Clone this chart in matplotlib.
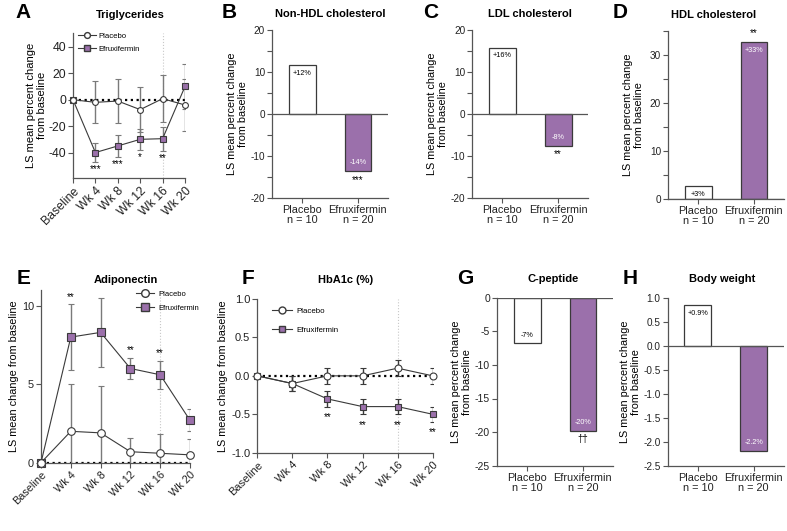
import numpy as np
import matplotlib
matplotlib.use('Agg')
import matplotlib.pyplot as plt
from matplotlib.lines import Line2D
from matplotlib.transforms import Bbox, TransformedBbox

plt.rcParams['font.family'] = ['Liberation Sans', 'DejaVu Sans']
plt.rcParams['axes.unicode_minus'] = False

PURPLE = '#9b70ab'
DARK = '#3a3a3a'
AXC = '#555555'
ERRC = '#7a7a7a'

weeks = [0, 4, 8, 12, 16, 20]
week_labels = ['Baseline', 'Wk 4', 'Wk 8', 'Wk 12', 'Wk 16', 'Wk 20']
groups = ['Placebo\nn = 10', 'Efruxifermin\nn = 20']

# A - triglycerides (LS mean % change)
tg_pbo = [0, -2, -1, -7.5, 0.8, -4]
tg_pbo_err = [0, 16, 17, 17, 18, 20]
tg_efx = [0, -40, -35, -30, -29.5, 10]
tg_efx_err = [0, 7, 8, 8, 9, 17]
tg_stars = ['', '***', '***', '*', '**', '']

# B, C, D - lipids bars
nonhdl = [11.6, -13.7]
nonhdl_txt = ['+12%', '-14%']
ldl = [15.8, -7.7]
ldl_txt = ['+16%', '-8%']
hdl = [2.7, 32.7]
hdl_txt = ['+3%', '+33%']

# E - adiponectin
adipo_pbo = [0, 2.0, 1.9, 0.7, 0.6, 0.5]
adipo_pbo_err = [0, 3.0, 3.0, 0.9, 1.2, 1.0]
adipo_efx = [0, 8.0, 8.3, 6.0, 5.6, 2.7]
adipo_efx_err = [0, 2.1, 2.2, 0.7, 0.9, 0.7]
adipo_stars = ['', '**', '', '**', '**', '']

# F - HbA1c
hba_pbo = [0, -0.1, 0.0, 0.0, 0.1, 0.0]
hba_pbo_err = [0, 0.1, 0.1, 0.1, 0.1, 0.1]
hba_efx = [0, -0.1, -0.3, -0.4, -0.4, -0.5]
hba_efx_err = [0, 0.1, 0.1, 0.1, 0.1, 0.1]
hba_stars = ['', '', '**', '**', '**', '**']

# G, H
cpep = [-6.8, -19.8]
cpep_txt = ['-7%', '-20%']
bw = [0.86, -2.18]
bw_txt = ['+0.9%', '-2.2%']

W, H = 787, 531
fig = plt.figure(figsize=(7.87, 5.31), dpi=100)


def px_axes(x0, x1, y0, y1):
    # pixel box (left, right, top, bottom) -> figure axes
    return fig.add_axes([x0 / W, 1 - y1 / H, (x1 - x0) / W, (y1 - y0) / H])


def style(ax, fs):
    for s in ['top', 'right']:
        ax.spines[s].set_visible(False)
    for s in ['left', 'bottom']:
        ax.spines[s].set_color(AXC)
        ax.spines[s].set_linewidth(0.9)
    ax.tick_params(which='both', direction='out', length=3.5, width=0.8,
                   color=AXC, labelsize=fs, pad=1.5, labelcolor='#222222')


def line_panel(ax, pbo, pbo_err, efx, efx_err, stars, ms, fs, ecol=ERRC, below=True, off=0):
    style(ax, fs)
    ax.axhline(0, color='black', ls=(0, (1, 1.6)), lw=1.6, zorder=1)
    ax.axvline(16, color='#c8c8c8', ls=':', lw=0.8, zorder=0)
    kw = dict(color=DARK, lw=0.8, mec=DARK, mew=0.8, ms=ms, ecolor=ecol,
              elinewidth=1.0, capsize=2.5, capthick=0.9)
    e1 = ax.errorbar(weeks, efx, yerr=efx_err, marker='s', mfc=PURPLE, zorder=3, **kw)
    e2 = ax.errorbar(weeks, pbo, yerr=pbo_err, marker='o', mfc='white', zorder=4, **kw)
    for e in (e1, e2):
        e[0].set_clip_on(False)
    ax.set_xlim(0, 20)
    ax.set_xticks(weeks)
    ax.set_xticklabels(week_labels, rotation=45, ha='right', rotation_mode='anchor')
    for x, y, er, s in zip(weeks, efx, efx_err, stars):
        if not s:
            continue
        if below:
            ax.text(x, y - er - off, s, ha='center', va='top', fontsize=7)
        else:
            ax.text(x, y + er + off, s, ha='center', va='bottom', fontsize=7)
    handles = [Line2D([], [], color=DARK, lw=0.8, marker='o', mfc='white', mec=DARK, ms=ms),
               Line2D([], [], color=DARK, lw=0.8, marker='s', mfc=PURPLE, mec=DARK, ms=ms)]
    return handles


def bar_panel(ax, vals, txt, star=None, fs=7.2):
    style(ax, fs)
    ax.bar([0, 1], vals, width=0.48, color=['white', PURPLE], edgecolor=DARK,
           linewidth=0.9, zorder=2)
    ax.axhline(0, color=AXC, lw=0.9, zorder=3)
    ax.set_xlim(-0.54, 1.54)
    ax.set_xticks([0, 1])
    ax.set_xticklabels(groups, fontsize=7.8, linespacing=1.0)
    for i, (v, t) in enumerate(zip(vals, txt)):
        col = 'black' if i == 0 else 'white'
        dy = -6 if v > 0 else 6
        ax.annotate(t, (i, v), xytext=(0, dy), textcoords='offset points',
                    ha='center', va='center', fontsize=5.2, color=col, zorder=4)
    if star:
        v = vals[1]
        dy = 6 if (v > 0) else -6
        ax.annotate(star, (1, v), xytext=(0, dy), textcoords='offset points',
                    ha='center', va='center', fontsize=7, zorder=4)


lab_pct = 'LS mean percent change\nfrom baseline'

# A
axA = px_axes(73, 185, 33, 178.3)
hA = line_panel(axA, tg_pbo, tg_pbo_err, tg_efx, tg_efx_err, tg_stars, 4.2, 8.8,
                below=True, off=2)
axA.set_ylim(-59.5, 50.5)
axA.set_yticks([-40, -20, 0, 20, 40])
axA.set_ylabel(lab_pct, fontsize=8, labelpad=1, linespacing=1.1)
axA.legend(hA, ['Placebo', 'Efruxifermin'], loc='upper left', bbox_to_anchor=(0.0, 1.04),
           frameon=False, fontsize=5.6, handlelength=2.2, labelspacing=0.7, borderpad=0.2,
           handletextpad=0.4)

# B
axB = px_axes(272, 388, 30, 197.7)
bar_panel(axB, nonhdl, nonhdl_txt, '***')
axB.set_ylim(-20, 20)
axB.set_yticks([-20, -10, 0, 10, 20])
axB.set_yticks([-15, -5, 5, 15], minor=True)
axB.set_ylabel(lab_pct, fontsize=7.8, labelpad=2, linespacing=1.1)

# C
axC = px_axes(472.3, 588.3, 30, 197.7)
bar_panel(axC, ldl, ldl_txt, '**')
axC.set_ylim(-20, 20)
axC.set_yticks([-20, -10, 0, 10, 20])
axC.set_yticks([-15, -5, 5, 15], minor=True)
axC.set_ylabel(lab_pct, fontsize=7.8, labelpad=2, linespacing=1.1)

# D
axD = px_axes(668, 784, 30.7, 199)
bar_panel(axD, hdl, hdl_txt, '**')
axD.set_ylim(0, 35)
axD.set_yticks([0, 10, 20, 30])
axD.set_yticks([5, 15, 25, 35], minor=True)
axD.set_ylabel(lab_pct, fontsize=7.8, labelpad=4, linespacing=1.1)

# E
axE = px_axes(41, 190, 290, 462.7)
hE = line_panel(axE, adipo_pbo, adipo_pbo_err, adipo_efx, adipo_efx_err, adipo_stars, 5.5, 7.8,
                below=False, off=0.15)
axE.set_ylim(0, 11)
axE.set_yticks([0, 5, 10])
axE.set_ylabel('LS mean change from baseline', fontsize=7.8, labelpad=2)
legE = axE.legend(hE, ['Placebo', 'Efruxifermin'], loc='upper left', bbox_to_anchor=(0.6, 1.03),
                  frameon=False, fontsize=5.5, handlelength=2.4, labelspacing=0.9,
                  borderpad=0.2, handletextpad=0.6)
clip = TransformedBbox(Bbox([[0, 0], [200 / W, 1]]), fig.transFigure)
for t in legE.get_texts():
    t.set_clip_box(clip)
    t.set_clip_on(True)

# F
axF = px_axes(257.3, 432.7, 299, 452.7)
hF = line_panel(axF, hba_pbo, hba_pbo_err, hba_efx, hba_efx_err, hba_stars, 5.0, 8.0,
                ecol=DARK, below=True, off=0.07)
axF.set_ylim(-1.0, 1.0)
axF.set_yticks([-1.0, -0.5, 0.0, 0.5, 1.0])
axF.set_yticklabels(['-1.0', '-0.5', '0.0', '0.5', '1.0'])
axF.set_ylabel('LS mean change from baseline', fontsize=7.8, labelpad=2)
axF.legend(hF, ['Placebo', 'Efruxifermin'], loc='upper left', bbox_to_anchor=(0.05, 0.98),
           frameon=False, fontsize=5.7, handlelength=2.6, labelspacing=1.4, borderpad=0.2,
           handletextpad=0.5)

# G
axG = px_axes(497, 613, 297.7, 465.7)
bar_panel(axG, cpep, cpep_txt, '\u2020\u2020', fs=7.5)
axG.set_ylim(-25, 0)
axG.set_yticks([-25, -20, -15, -10, -5, 0])
axG.set_ylabel(lab_pct, fontsize=7.8, labelpad=2, linespacing=1.1)

# H
axH = px_axes(667.7, 783.7, 298.3, 466)
bar_panel(axH, bw, bw_txt)
axH.set_ylim(-2.5, 1.0)
axH.set_yticks([-2.5, -2.0, -1.5, -1.0, -0.5, 0.0, 0.5, 1.0])
axH.set_yticklabels(['-2.5', '-2.0', '-1.5', '-1.0', '-0.5', '0.0', '0.5', '1.0'])
axH.set_ylabel(lab_pct, fontsize=7.8, labelpad=2, linespacing=1.1)

# titles and panel letters (pixel positions)
titles = [('Triglycerides', 130, 15), ('Non-HDL cholesterol', 330, 14),
          ('LDL cholesterol', 530, 14), ('HDL cholesterol', 714, 15),
          ('Adiponectin', 126, 280), ('HbA1c (%)', 346, 280),
          ('C-peptide', 553, 279), ('Body weight', 722, 279)]
for t, x, y in titles:
    fig.text(x / W, 1 - y / H, t, ha='center', va='center', fontsize=8, fontweight='bold')

letters = [('A', 15, 13), ('B', 222, 13), ('C', 423, 13), ('D', 613, 13),
           ('E', 17, 278), ('F', 242, 278), ('G', 457, 278), ('H', 623, 278)]
for t, x, y in letters:
    fig.text(x / W, 1 - y / H, t, ha='left', va='center', fontsize=15, fontweight='bold')

fig.savefig('out.png', dpi=100)
